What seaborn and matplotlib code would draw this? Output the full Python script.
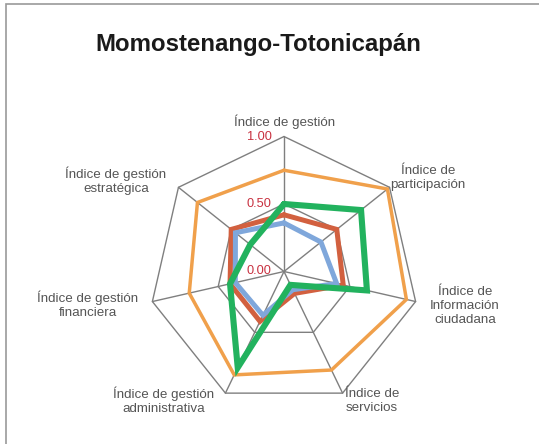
import numpy as np
import pandas as pd
import matplotlib
import matplotlib.pyplot as plt
import matplotlib.transforms as mtrans
from matplotlib.patches import Rectangle
import seaborn as sns

matplotlib.use("Agg")

# axis names, clockwise from the top
labels = [
    "Índice de gestión",
    "Índice de\nparticipación",
    "Índice de\nInformación\nciudadana",
    "Índice de\nservicios",
    "Índice de gestión\nadministrativa",
    "Índice de gestión\nfinanciera",
    "Índice de gestión\nestratégica",
]
# where each axis name sits (figure pixels, centre of the text)
label_pos = [(285, 122), (428, 178), (465, 306), (372, 401), (164, 401), (88, 305), (116, 181)]

orange = [0.75, 0.98, 0.93, 0.81, 0.85, 0.72, 0.82]
red = [0.42, 0.50, 0.45, 0.18, 0.41, 0.41, 0.50]
blue = [0.36, 0.35, 0.40, 0.15, 0.36, 0.37, 0.46]
green = [0.50, 0.73, 0.63, 0.11, 0.79, 0.41, 0.32]

ticks = [0.0, 0.5, 1.0]
tick_labels = ["0.00", "0.50", "1.00"]

series = [
    (orange, "#F0A04B", 2.5),
    (red, "#D2603F", 3.6),
    (blue, "#7FA7DB", 3.6),
    (green, "#22B25E", 4.4),
]

W, H = 539, 444
sns.set_theme(style="white")
plt.rcParams["font.family"] = ["Liberation Sans", "DejaVu Sans"]

fig = plt.figure(figsize=(W / 100, H / 100), dpi=100)

# polar axes positioned so the centre lands at (284, 271.5) px, radius 135 px
cx, cy, R = 284, 271.5, 135
ax = fig.add_axes([(cx - R) / W, (H - cy - R) / H, 2 * R / W, 2 * R / H], projection="polar")
ax.set_theta_zero_location("N")
ax.set_theta_direction(-1)
ax.set_ylim(0, 1.0)
ax.grid(False)
ax.spines["polar"].set_visible(False)
ax.set_xticks([])
ax.set_yticks([])
ax.patch.set_alpha(0)

n = len(labels)
theta = np.linspace(0, 2 * np.pi, n, endpoint=False)
theta_c = np.append(theta, theta[0])

# heptagon grid + spokes
grid_col = "#7F7F7F"
for r in [0.5, 1.0]:
    ax.plot(theta_c, [r] * (n + 1), color=grid_col, lw=1.0, clip_on=False, zorder=1)
for t in theta:
    ax.plot([t, t], [0, 1.0], color=grid_col, lw=1.0, clip_on=False, zorder=1)

for vals, col, lw in series:
    df = pd.DataFrame({"theta": theta_c, "r": vals + [vals[0]]})
    sns.lineplot(data=df, x="theta", y="r", sort=False, estimator=None, ax=ax, color=col,
                 lw=lw, solid_joinstyle="miter", clip_on=False, legend=False, zorder=3)
ax.set_xlabel("")
ax.set_ylabel("")

# radial tick labels, left of the top spoke
off = mtrans.offset_copy(ax.transData, fig=fig, x=-9, y=0, units="points")
for r, t in zip(ticks, tick_labels):
    ax.text(0, r, t, transform=off, ha="right", va="center", fontsize=9.2,
            color="#C8303F", zorder=5)

for lab, (x, y) in zip(labels, label_pos):
    fig.text(x / W, 1 - y / H, lab, ha="center", va="center", fontsize=9.6,
             color="#555555", linespacing=1.2)

fig.text(258 / W, 1 - 45 / H, "Momostenango-Totonicapán", ha="center", va="center",
         fontsize=17.3, fontweight="bold", color="#1A1A1A")

# outer frame (cut off at right and bottom like the source)
fig.patches.append(Rectangle((6 / W, -0.05), 1.2, 1 - 4 / H + 0.05, transform=fig.transFigure,
                             fill=False, edgecolor="#999999", lw=1.2))

fig.savefig("out.png", dpi=100)
